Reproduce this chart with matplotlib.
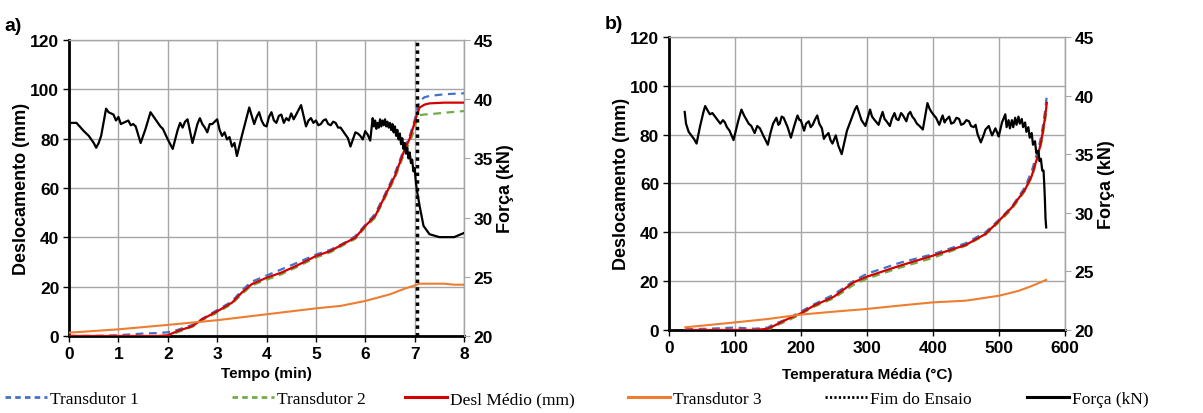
import numpy as np
import matplotlib.pyplot as plt
from matplotlib.lines import Line2D

# ---- ensaio a) : deslocamentos e forca em funcao do tempo ----
tempo = [0, 0.5, 1.0, 1.5, 1.8, 2.0, 2.2, 2.5, 2.7, 3.0, 3.3, 3.5, 3.7, 4.0, 4.3, 4.6, 5.0,
         5.3, 5.6, 5.8, 6.0, 6.2, 6.4, 6.6, 6.8, 6.9, 7.0, 7.05, 7.1, 7.2, 7.3, 7.6, 8.0]
transdutor1_a = [0, 0, 0.3, 1, 1.2, 1.5, 2.5, 4.5, 7, 10.5, 14, 18.5, 22, 24.5, 27, 29.5, 33,
                 35, 38, 40.5, 45, 49.5, 57.5, 66, 76.5, 81, 87.5, 92, 95.3, 96.8, 97.3, 98, 98.4]
transdutor2_a = [0, 0, 0, 0, 0, 0, 1.5, 3.8, 6.5, 9.5, 13, 17, 20.5, 22.8, 25, 27.8, 31.8,
                 34, 37.3, 39.4, 44, 48, 56, 64, 74.5, 78.5, 83.8, 88.5, 89.5, 89.8, 89.9, 90.5, 91.2]
desl_medio_a = [0, 0, 0, 0, 0, 0.3, 2, 4, 6.8, 10, 13.5, 17.6, 21, 23.6, 25.7, 28.4, 32.4,
                34.5, 37.8, 39.9, 44.6, 48.6, 56.8, 64.9, 75.7, 80, 86.5, 90, 92.6, 93.8, 94.3, 94.6, 94.6]

tempo_t3 = [0, 1, 2, 3, 4, 5, 5.5, 6, 6.5, 6.8, 7.0, 7.1, 7.6, 7.8, 8.0]
transdutor3_a = [1.35, 2.7, 4.5, 6.4, 8.8, 11.2, 12.2, 14.2, 16.9, 19.2, 20.5, 21.2, 21.2, 20.8, 20.8]

tempo_forca = [0, 0.15, 0.3, 0.4, 0.45, 0.5, 0.55, 0.6, 0.65, 0.75, 0.8, 0.9, 0.95, 1.0, 1.05,
               1.1, 1.2, 1.25, 1.3, 1.35, 1.45, 1.55, 1.65, 1.75, 1.85, 1.9, 2.0, 2.1, 2.2,
               2.25, 2.3, 2.35, 2.4, 2.5, 2.6, 2.65, 2.7, 2.75, 2.8, 2.85, 2.9, 3.0, 3.05, 3.1,
               3.15, 3.2, 3.25, 3.3, 3.35, 3.4, 3.5, 3.6, 3.65, 3.7, 3.75, 3.8, 3.85, 3.9, 3.95,
               4.0, 4.05, 4.1, 4.15, 4.2, 4.25, 4.3, 4.35, 4.4, 4.45, 4.5, 4.55, 4.6, 4.7, 4.75,
               4.8, 4.85, 4.9, 4.95, 5.0, 5.05, 5.1, 5.15, 5.2, 5.25, 5.3, 5.35, 5.4, 5.45, 5.5,
               5.55, 5.6, 5.65, 5.7, 5.75, 5.8, 5.85, 5.9, 5.95, 6.0, 6.05, 6.1,
               6.150, 6.175, 6.200, 6.225, 6.250, 6.275, 6.300, 6.325, 6.350, 6.375, 6.400,
               6.425, 6.450, 6.475, 6.500, 6.525, 6.550, 6.575, 6.600, 6.625, 6.650, 6.675,
               6.700, 6.725, 6.750, 6.775, 6.800, 6.825, 6.850, 6.875, 6.900, 6.925, 6.950,
               6.975, 7.000, 7.025, 7.050, 7.1, 7.18, 7.3, 7.5, 7.8, 8.0]
forca_a = [38.0, 38.0, 37.3, 36.9, 36.6, 36.3, 35.9, 36.3, 36.9, 39.2, 38.9, 38.7, 38.2, 38.5, 37.9,
           38.0, 38.2, 37.8, 37.9, 37.7, 36.3, 37.5, 38.9, 38.3, 37.7, 37.5, 36.6, 35.8, 37.4,
           38.0, 37.6, 38.1, 38.3, 36.3, 37.9, 38.4, 37.9, 37.6, 37.2, 37.9, 37.9, 38.3, 37.4, 36.9,
           37.2, 36.6, 36.8, 36.0, 36.3, 35.2, 36.9, 38.5, 39.3, 38.6, 37.9, 38.5, 38.9, 38.2, 37.8,
           37.7, 38.5, 38.9, 38.2, 38.0, 38.6, 38.7, 38.0, 38.4, 38.2, 38.8, 38.3, 38.7, 39.5, 38.6,
           37.7, 38.2, 38.4, 38.0, 38.2, 37.8, 37.9, 38.2, 38.3, 37.9, 37.8, 38.1, 38.0, 37.6, 37.6,
           37.3, 37.0, 36.7, 36.0, 36.6, 37.2, 37.1, 36.9, 36.6, 37.3, 37.0, 36.5,
           38.4, 37.7, 38.2, 37.5, 38.0, 37.6, 38.3, 37.7, 38.2, 37.8, 38.3,
           37.7, 38.1, 37.6, 38.0, 37.4, 37.9, 37.2, 37.7, 36.9, 37.4, 36.6,
           37.1, 36.2, 36.7, 35.8, 36.3, 35.4, 35.9, 35.0, 35.5, 34.6, 34.9,
           33.9, 34.2, 33.0, 32.2, 31.0, 29.3, 28.6, 28.35, 28.35, 28.7]
fim_ensaio = 7.05

# ---- ensaio b) : deslocamentos e forca em funcao da temperatura media ----
temp = [25, 60, 100, 130, 150, 160, 180, 200, 220, 250, 280, 300, 350, 400, 450, 480, 500,
        520, 540, 550, 560, 565, 570, 573]
transdutor1_b = [0.3, 0.5, 1, 0.5, 1, 2.5, 4.5, 7.5, 10.5, 14.5, 20, 23, 27.5, 31, 35.5, 40, 45,
                 50.5, 58.5, 65, 74, 80, 89, 96]
transdutor2_b = [0, 0, 0, 0, 0, 1.5, 3.8, 6.5, 9.5, 13, 18.5, 21, 25.5, 29.5, 34.5, 39, 44,
                 49.5, 57, 62.5, 71, 77, 85, 91]
desl_medio_b = [0, 0, 0, 0, 0.5, 1.8, 4.5, 6.8, 10, 13.6, 19.5, 21.8, 26.3, 30.4, 34.8, 39.3, 44.6,
                50.2, 57.5, 63, 72, 78, 86.5, 93]

temp_t3 = [25, 100, 150, 200, 250, 300, 350, 400, 450, 500, 530, 550, 572]
transdutor3_b = [1.1, 3.1, 4.5, 6.3, 7.5, 8.6, 10, 11.3, 12, 14, 16, 18, 20.5]

temp_forca = [24, 26, 30, 34, 38, 42, 47, 52, 55, 58, 62, 66, 70, 74, 78, 82, 85, 88, 92, 98,
              102, 105, 110, 114, 118, 121, 125, 130, 134, 138, 143, 150, 154, 158, 163, 166,
              168, 171, 174, 180, 185, 190, 195, 198, 200, 205, 208, 212, 215, 218, 222, 225,
              228, 232, 235, 237, 242, 245, 248, 253, 257, 262, 266, 270, 274, 278, 282, 285,
              289, 292, 298, 302, 305, 308, 312, 318, 321, 324, 327, 330, 335, 338, 342, 345,
              348, 352, 355, 360, 363, 366, 369, 372, 376, 380, 385, 392, 395, 398, 402, 405,
              410, 413, 415, 418, 420, 425, 428, 432, 436, 440, 443, 447, 451, 455, 458, 462,
              465, 468, 473, 477, 480, 485, 488, 490, 495, 498, 500, 505,
              510, 512, 515, 517, 520, 522, 525, 527, 530, 532, 535, 537, 540, 542, 545, 547,
              550, 552, 555, 557, 560, 562, 564, 566, 568, 569, 570, 571, 572]
forca_b = [38.6, 37.6, 36.9, 36.6, 36.3, 35.9, 37.3, 38.5, 39.1, 38.8, 38.4, 38.5, 38.2, 37.9,
           37.6, 37.9, 37.7, 37.3, 37.0, 36.2, 37.1, 37.8, 38.8, 38.3, 37.9, 37.6, 37.4, 36.8,
           37.4, 37.2, 36.6, 35.8, 36.8, 37.6, 38.1, 37.5, 37.6, 38.2, 38.1, 37.3, 36.4, 37.4,
           38.3, 37.9, 37.9, 37.0, 37.6, 37.8, 37.3, 37.5, 38.0, 38.3, 37.6, 37.2, 36.3, 36.5,
           36.8, 36.2, 35.9, 36.6, 35.7, 35.0, 36.0, 37.0, 37.6, 38.2, 38.8, 39.1, 38.4, 37.9,
           37.4, 38.2, 38.8, 38.2, 37.9, 37.5, 38.1, 38.6, 38.0, 37.8, 37.4, 38.0, 38.5, 38.0,
           37.9, 38.5, 38.3, 37.8, 38.4, 38.6, 38.2, 38.0, 37.6, 37.4, 37.1, 39.35, 38.9, 38.6,
           38.3, 38.1, 37.5, 38.0, 38.3, 37.7, 37.9, 38.2, 37.6, 37.7, 38.1, 38.0, 37.5, 37.6,
           37.9, 37.8, 37.4, 37.3, 37.5, 36.7, 36.0, 36.6, 37.1, 37.4, 36.9, 36.6, 37.2, 36.8,
           36.5, 37.7,
           38.4, 37.3, 37.9, 37.2, 37.9, 37.3, 38.1, 37.5, 38.2, 37.6, 38.0, 37.3, 37.7, 36.9,
           37.3, 36.4, 36.8, 35.8, 36.1, 35.1, 35.3, 34.4, 34.6, 33.6, 33.6, 32.5, 31.2, 29.5,
           28.75]

azul = '#4472C4'
verde = '#70AD47'
vermelho = '#D40000'
laranja = '#ED7D31'
grade = '#A6A6A6'

plt.rcParams['font.family'] = ['Liberation Sans', 'DejaVu Sans']

fig = plt.figure(figsize=(12.03, 4.14), dpi=100)
ax_a = fig.add_axes([0.0574, 0.186, 0.3283, 0.715])
ax_b = fig.add_axes([0.556, 0.2005, 0.329, 0.708])


def montar(ax, x_desl, t1, t2, dm, x_t3, t3, x_f, f, xmax, xstep, xlabel, xpad):
    ax.plot(x_desl, t1, color=azul, lw=1.6, ls=(0, (3.5, 2.5)), zorder=3)
    ax.plot(x_desl, t2, color=verde, lw=1.6, ls=(0, (3.5, 2.5)), zorder=3)
    ax.plot(x_desl, dm, color=vermelho, lw=1.6, zorder=4)
    ax.plot(x_t3, t3, color=laranja, lw=1.5, zorder=4)
    ax.set_xlim(0, xmax)
    ax.set_ylim(0, 120)
    ax.set_xticks(np.arange(0, xmax + xstep / 2, xstep))
    ax.set_yticks(np.arange(0, 121, 20))
    ax.grid(True, color=grade, lw=1)
    ax.set_axisbelow(True)
    for s in ['left', 'bottom']:
        ax.spines[s].set_linewidth(2)
        ax.spines[s].set_color('black')
    for s in ['top', 'right']:
        ax.spines[s].set_color(grade)
        ax.spines[s].set_linewidth(1)
    ax.tick_params(axis='both', labelsize=12.5, length=4, width=1, direction='out', pad=3)
    for lab in ax.get_xticklabels() + ax.get_yticklabels():
        lab.set_fontweight('bold')
    ax.set_ylabel('Deslocamento (mm)', fontsize=13, fontweight='bold', labelpad=0)
    ax.set_xlabel(xlabel, fontsize=11, fontweight='bold', labelpad=xpad)

    axf = ax.twinx()
    axf.plot(x_f, f, color='black', lw=1.6, zorder=5)
    axf.set_ylim(20, 45)
    axf.set_yticks(np.arange(20, 46, 5))
    for s in ['left', 'bottom', 'top']:
        axf.spines[s].set_visible(False)
    axf.spines['right'].set_color(grade)
    axf.tick_params(axis='y', labelsize=12.5, length=4, color=grade, pad=3)
    for lab in axf.get_yticklabels():
        lab.set_fontweight('bold')
    axf.set_ylabel('Força (kN)', fontsize=13, fontweight='bold', labelpad=3)
    return axf


montar(ax_a, tempo, transdutor1_a, transdutor2_a, desl_medio_a, tempo_t3, transdutor3_a,
       tempo_forca, forca_a, 8, 1, 'Tempo (min)', 4)
ax_a.axvline(fim_ensaio, color='black', lw=2.5, ls=(0, (1, 1.2)), zorder=6)

montar(ax_b, temp, transdutor1_b, transdutor2_b, desl_medio_b, temp_t3, transdutor3_b,
       temp_forca, forca_b, 600, 100, 'Temperatura Média (°C)', 9)

fig.text(0.004, 0.925, 'a)', fontsize=14, fontweight='bold')
fig.text(0.503, 0.93, 'b)', fontsize=14, fontweight='bold')

# legenda comum na parte de baixo
entradas = [
    (Line2D([], [], color=azul, lw=2, ls=(0, (2, 1.5))), 'Transdutor 1'),
    (Line2D([], [], color=verde, lw=2, ls=(0, (2, 1.5))), 'Transdutor 2'),
    (Line2D([], [], color=vermelho, lw=2.2), 'Desl Médio (mm)'),
    (Line2D([], [], color=laranja, lw=2.2), 'Transdutor 3'),
    (Line2D([], [], color='black', lw=2, ls=(0, (0.8, 0.8))), 'Fim do Ensaio'),
    (Line2D([], [], color='black', lw=2.2), 'Força (kN)'),
]
pos_x = [5, 232, 405, 628, 825, 1027]
for (h, lab), px in zip(entradas, pos_x):
    fig.legend([h], [lab], loc='center left', bbox_to_anchor=(px / 1203, 0.033),
               frameon=False, handlelength=2.4, handletextpad=0.2, borderaxespad=0,
               borderpad=0, prop={'family': 'Liberation Serif', 'size': 12.5})

fig.savefig('out.png', dpi=100)
